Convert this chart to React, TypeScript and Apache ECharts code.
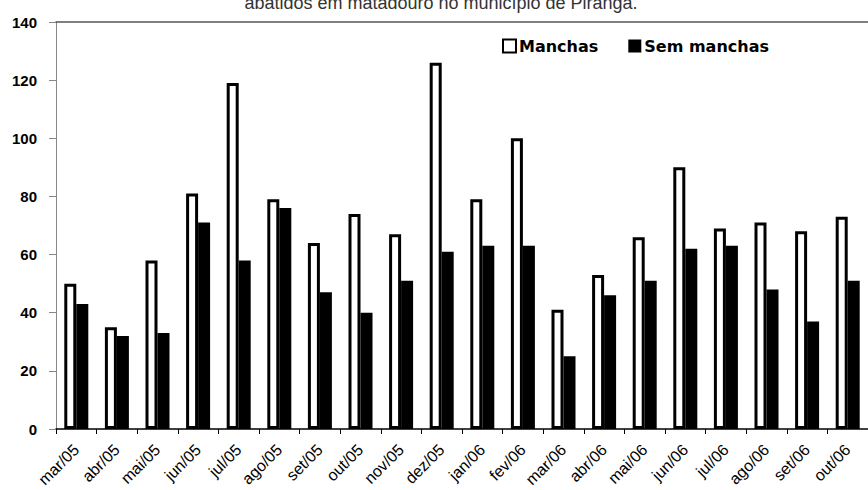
import React, { useEffect, useRef } from "react";
import * as echarts from "echarts";

const categories = [
  "mar/05", "abr/05", "mai/05", "jun/05", "jul/05", "ago/05", "set/05", "out/05", "nov/05", "dez/05",
  "jan/06", "fev/06", "mar/06", "abr/06", "mai/06", "jun/06", "jul/06", "ago/06", "set/06", "out/06",
];
const manchas = [50, 35, 58, 81, 119, 79, 64, 74, 67, 126, 79, 100, 41, 53, 66, 90, 69, 71, 68, 73];
const semManchas = [43, 32, 33, 71, 58, 76, 47, 40, 51, 61, 63, 63, 25, 46, 51, 62, 63, 48, 37, 51];
const yTicks = { min: 0, max: 140, interval: 20 };
const titleText = "abatidos em matadouro no município de Piranga.";
const seriesNames = ["Manchas", "Sem manchas"];

export default function App() {
  const ref = useRef<HTMLDivElement>(null);
  useEffect(() => {
    if (!ref.current) return;
    const chart = echarts.init(ref.current, undefined, { renderer: "svg" });
    const labelFont = "'Liberation Sans', Arial, sans-serif";
    chart.setOption({
      animation: false,
      backgroundColor: "#fff",
      grid: { left: 56, right: -8, top: 22, bottom: 56, containLabel: false },
      graphic: [
        {
          type: "text",
          x: 441,
          y: 3,
          style: {
            text: titleText,
            fill: "#333",
            font: "18px 'Liberation Sans', Arial, sans-serif",
            textAlign: "center",
            textVerticalAlign: "middle",
          },
        },
      ],
      legend: {
        left: 497,
        top: 33,
        itemWidth: 13,
        itemHeight: 13,
        itemGap: 30,
        selectedMode: false,
        icon: "rect",
        textStyle: {
          fontFamily: "'DejaVu Sans', sans-serif",
          fontWeight: "bold",
          fontSize: 16,
          color: "#000",
          padding: [0, 0, 0, -2],
        },
        data: seriesNames,
      },
      xAxis: [
        {
          type: "category",
          data: categories,
          position: "bottom",
          axisLine: { show: true, lineStyle: { color: "#000", width: 1.5 } },
          axisTick: { show: true, inside: false, length: 5, lineStyle: { color: "#000" } },
          axisLabel: {
            interval: 0,
            rotate: 45,
            margin: 18,
            color: "#000",
            fontSize: 16,
            fontFamily: labelFont,
          },
          splitLine: { show: false },
        },
        {
          type: "category",
          data: categories,
          position: "top",
          axisLine: { show: true, lineStyle: { color: "#555", width: 1.5 } },
          axisTick: { show: false },
          axisLabel: { show: false },
          splitLine: { show: false },
        },
      ],
      yAxis: {
        type: "value",
        min: yTicks.min,
        max: yTicks.max,
        interval: yTicks.interval,
        axisLine: { show: true, lineStyle: { color: "#888", width: 1 } },
        axisTick: { show: true, inside: false, length: 7, lineStyle: { color: "#888" } },
        axisLabel: {
          margin: 19,
          color: "#000",
          fontSize: 15,
          fontWeight: "bold",
          fontFamily: labelFont,
        },
        splitLine: { show: false },
      },
      series: [
        {
          name: seriesNames[0],
          type: "bar",
          data: manchas,
          barWidth: 12,
          barGap: "0%",
          itemStyle: { color: "#fff", borderColor: "#000", borderWidth: 3 },
        },
        {
          name: seriesNames[1],
          type: "bar",
          data: semManchas,
          barWidth: 12,
          barGap: "0%",
          itemStyle: { color: "#000" },
        },
      ],
    });
    return () => chart.dispose();
  }, []);
  return (
    <div
      ref={ref}
      style={{ position: "fixed", left: 0, top: 0, width: 868, height: 490 }}
    />
  );
}
